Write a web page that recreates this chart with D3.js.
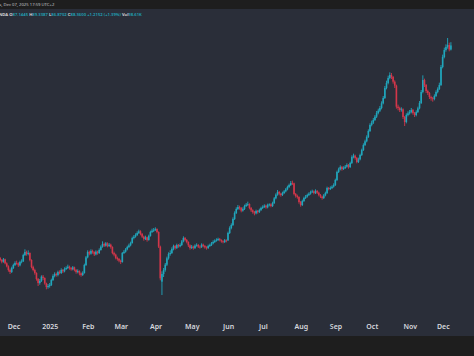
<!DOCTYPE html>
<html><head><meta charset="utf-8">
<script src="https://cdn.jsdelivr.net/npm/d3@7"></script>
<style>html,body{margin:0;padding:0;background:#1e1e1e;}svg{display:block}</style>
</head><body>
<svg id="c" width="474" height="356"></svg>
<script>
const opens = [
24.2,24.6,24.0,23.5,24.2,23.0,22.1,21.0,20.4,21.6,
22.5,23.1,23.0,22.4,23.4,23.6,25.5,26.4,25.8,26.1,
24.0,21.9,21.0,20.1,18.3,17.1,17.7,19.0,18.6,17.0,
15.9,16.2,16.5,18.0,19.2,19.8,19.5,20.4,20.1,21.0,
20.6,21.3,21.6,22.0,21.6,21.2,21.8,21.0,20.4,20.7,
20.0,19.5,20.1,22.5,24.8,26.4,25.9,26.7,26.4,25.7,
26.5,26.1,27.0,28.0,28.8,28.3,29.0,28.2,28.6,27.9,
26.1,25.6,24.6,24.3,23.8,23.4,26.1,26.5,27.2,27.9,
28.4,29.1,30.6,31.0,31.5,32.1,32.6,31.8,31.0,30.3,
30.8,30.0,31.2,32.4,32.8,33.0,33.3,32.4,28.0,17.5,
19.8,21.0,22.6,24.5,25.8,26.1,27.3,28.2,27.6,28.5,
28.1,28.5,29.6,30.6,30.0,29.4,28.4,27.6,28.0,27.6,
28.3,28.5,28.0,27.9,28.6,28.2,27.8,27.6,28.2,28.5,
29.0,29.4,29.8,30.0,30.3,30.0,29.6,29.4,29.9,29.9,
32.1,33.6,34.5,36.3,38.1,39.3,39.9,39.6,38.8,39.3,
40.2,40.6,40.8,39.6,38.9,38.4,38.0,38.7,38.4,39.0,
39.6,39.9,40.3,39.8,40.5,40.7,40.2,41.1,42.5,43.6,
44.4,43.9,43.5,44.1,44.6,45.2,45.9,46.5,47.1,47.0,
43.8,43.2,42.9,41.4,40.5,41.7,42.6,43.0,43.5,43.9,
44.4,44.6,44.1,44.7,44.2,43.5,43.0,42.6,43.4,44.1,
45.6,45.3,45.6,46.0,46.5,48.0,50.4,51.2,51.9,51.3,
51.6,52.0,52.5,51.9,53.1,54.9,55.3,54.6,53.4,54.2,
55.5,57.0,58.5,59.6,60.9,62.7,64.5,65.2,66.0,67.0,
68.1,68.8,69.6,71.0,72.6,75.6,77.1,78.6,79.5,78.9,
77.5,76.3,70.0,69.6,69.0,69.2,66.9,65.4,67.5,68.0,
68.4,69.0,68.1,67.5,68.4,69.5,71.1,74.4,78.0,76.5,
74.7,74.1,72.9,72.5,72.3,73.2,74.4,75.3,76.5,81.9,
84.9,87.0,87.9,88.5,87.1445];
const highs = [
25.1,24.9,24.3,24.6,24.4,23.3,22.4,21.4,22.0,22.9,
23.6,23.8,23.3,23.8,24.2,25.9,27.2,26.8,26.9,26.3,
24.2,22.3,21.4,20.3,18.6,18.3,19.4,19.5,18.8,17.2,
16.8,17.1,18.4,19.7,20.3,20.2,20.8,20.9,21.5,21.3,
21.8,22.1,22.6,22.3,21.9,22.2,22.0,21.3,21.2,20.9,
20.3,20.6,22.9,25.2,26.9,26.8,27.2,27.1,26.6,26.9,
26.8,27.5,28.4,29.6,29.2,29.4,29.3,29.1,28.9,28.1,
26.5,25.9,25.0,24.6,24.1,26.4,27.0,27.6,28.3,28.9,
29.5,31.0,31.5,32.0,32.6,33.1,32.9,32.1,31.3,31.3,
31.0,31.6,32.8,33.4,33.6,33.8,33.5,32.6,28.3,20.6,
21.6,23.1,25.0,26.3,26.9,27.8,28.6,28.5,28.9,28.8,
29.0,30.0,31.1,30.9,30.3,29.6,28.7,28.5,28.3,28.7,
29.0,28.8,28.4,29.0,28.9,28.5,28.1,28.6,28.9,29.4,
29.9,30.2,30.5,30.7,30.6,30.2,29.9,30.3,30.2,32.5,
34.1,35.0,36.8,38.6,39.8,40.5,40.3,39.9,39.8,40.6,
41.1,41.5,41.0,39.9,39.2,38.7,39.1,39.0,39.4,40.0,
40.4,40.7,40.6,40.9,41.0,41.0,41.5,42.9,44.0,45.0,
44.7,44.2,44.5,45.0,45.6,46.3,46.9,47.7,47.8,47.2,
44.1,43.6,43.1,41.7,42.1,43.0,43.5,43.9,44.3,44.8,
45.1,44.9,45.2,45.0,44.5,43.8,43.3,43.8,44.5,46.0,
45.9,46.1,46.4,47.0,48.4,50.8,51.7,52.4,52.2,52.1,
52.5,53.0,52.8,53.5,55.4,55.9,55.6,54.9,54.7,55.9,
57.4,59.0,60.1,61.4,63.2,65.0,65.8,66.6,67.5,68.7,
69.4,70.2,71.6,73.2,76.2,77.8,79.3,80.3,80.1,79.2,
77.9,76.6,70.6,70.0,69.8,69.5,67.2,68.0,68.6,69.0,
69.6,69.3,68.4,68.9,70.0,71.7,75.0,79.4,78.4,76.8,
75.1,74.4,73.3,72.9,73.7,74.9,75.8,77.2,82.5,85.6,
87.7,88.7,90.6,89.2,89.3387];
const lows = [
23.9,23.6,23.0,23.2,22.7,21.8,20.5,19.8,20.1,21.3,
22.2,22.6,21.9,22.1,23.0,23.4,25.2,25.3,25.4,23.6,
21.5,20.6,19.6,17.8,16.2,16.6,17.4,18.0,16.6,15.2,
15.4,15.7,16.2,17.7,18.8,19.0,19.1,19.7,19.8,20.1,
20.3,21.0,21.3,21.1,20.8,20.9,20.6,19.9,20.0,19.4,
19.0,19.2,19.9,22.2,24.5,25.4,25.6,25.9,25.2,25.4,
25.6,25.8,26.8,27.7,27.9,28.0,27.8,27.9,27.4,25.7,
25.1,24.2,23.8,23.3,22.8,23.2,25.8,26.2,26.9,27.6,
28.1,28.9,30.2,30.7,31.2,31.8,31.4,30.6,29.8,30.0,
29.5,29.8,31.0,32.1,32.4,32.7,32.0,27.6,17.9,13.5,
18.9,20.5,22.2,24.1,25.3,25.8,26.9,27.1,27.3,27.7,
27.8,28.2,29.3,29.6,29.0,27.9,27.1,27.3,27.1,27.3,
28.0,27.6,27.4,27.6,27.8,27.4,27.1,27.3,27.9,28.2,
28.7,29.1,29.5,29.7,29.6,29.2,29.0,29.1,29.3,29.7,
31.8,33.2,34.2,36.0,37.8,39.0,39.1,38.3,38.5,39.0,
39.9,40.2,39.2,38.4,37.9,37.4,37.7,37.9,38.1,38.7,
39.3,39.6,39.4,39.5,40.1,39.8,39.9,40.8,42.2,43.3,
43.4,43.0,43.2,43.8,44.3,44.9,45.6,46.2,46.5,43.4,
42.7,42.4,40.9,40.0,40.2,41.4,42.3,42.7,43.2,43.6,
44.1,43.7,43.8,43.8,43.1,42.6,42.1,42.3,43.1,43.8,
44.9,45.0,45.3,45.7,46.2,47.7,50.1,50.9,50.8,51.0,
51.3,51.7,51.4,51.6,52.8,54.5,54.1,53.0,53.1,53.9,
55.2,56.7,58.2,59.3,60.6,62.4,64.1,64.8,65.7,66.6,
67.7,68.4,69.2,70.7,72.3,75.2,76.7,78.2,78.3,76.9,
75.6,69.4,68.9,68.4,68.5,66.3,64.2,65.0,67.1,67.6,
68.0,67.6,66.9,67.1,68.1,69.2,70.8,74.0,75.9,74.1,
73.5,72.3,71.8,71.5,71.9,72.9,74.0,75.0,76.2,81.5,
84.5,86.5,87.4,86.6,86.8702];
const closes = [
24.6,24.0,23.5,24.2,23.0,22.1,21.0,20.4,21.6,22.5,
23.1,23.0,22.4,23.4,23.6,25.5,26.4,25.8,26.1,24.0,
21.9,21.0,20.1,18.3,17.1,17.7,19.0,18.6,17.0,15.9,
16.2,16.5,18.0,19.2,19.8,19.5,20.4,20.1,21.0,20.6,
21.3,21.6,22.0,21.6,21.2,21.8,21.0,20.4,20.7,20.0,
19.5,20.1,22.5,24.8,26.4,25.9,26.7,26.4,25.7,26.5,
26.1,27.0,28.0,28.8,28.3,29.0,28.2,28.6,27.9,26.1,
25.6,24.6,24.3,23.8,23.4,26.1,26.5,27.2,27.9,28.4,
29.1,30.6,31.0,31.5,32.1,32.6,31.8,31.0,30.3,30.8,
30.0,31.2,32.4,32.8,33.0,33.3,32.4,28.0,18.5,19.8,
21.0,22.6,24.5,25.8,26.1,27.3,28.2,27.6,28.5,28.1,
28.5,29.6,30.6,30.0,29.4,28.4,27.6,28.0,27.6,28.3,
28.5,28.0,27.9,28.6,28.2,27.8,27.6,28.2,28.5,29.0,
29.4,29.8,30.0,30.3,30.0,29.6,29.4,29.9,29.7,32.1,
33.6,34.5,36.3,38.1,39.3,39.9,39.6,38.8,39.3,40.2,
40.6,40.8,39.6,38.9,38.4,38.0,38.7,38.4,39.0,39.6,
39.9,40.3,39.8,40.5,40.7,40.2,41.1,42.5,43.6,44.4,
43.9,43.5,44.1,44.6,45.2,45.9,46.5,47.1,47.0,43.8,
43.2,42.9,41.4,40.5,41.7,42.6,43.0,43.5,43.9,44.4,
44.6,44.1,44.7,44.2,43.5,43.0,42.6,43.4,44.1,45.6,
45.3,45.6,46.0,46.5,48.0,50.4,51.2,51.9,51.3,51.6,
52.0,52.5,51.9,53.1,54.9,55.3,54.6,53.4,54.2,55.5,
57.0,58.5,59.6,60.9,62.7,64.5,65.2,66.0,67.0,68.1,
68.8,69.6,71.0,72.6,75.6,77.1,78.6,79.5,78.9,77.5,
76.3,70.0,69.6,69.0,69.2,66.9,65.4,67.5,68.0,68.4,
69.0,68.1,67.5,68.4,69.5,71.1,74.4,78.0,76.5,74.7,
74.1,72.9,72.5,72.3,73.2,74.4,75.3,76.5,81.9,84.9,
87.0,87.9,88.5,87.1445,88.36];
const monthLabels = ["Dec","2025","Feb","Mar","Apr","May","Jun","Jul","Aug","Sep","Oct","Nov","Dec"];
const firstBarDate = [2024, 10, 18];
const headerLine1 = "a, Dec 07, 2025 17:59 UTC+2";
const symbolText = "NDA";
const legendItems = [["O","87.1445"],["H","89.3387"],["L","86.8702"],["C","88.3600"]];
const changeText = "+1.2152 (+1.39%)";
const volLabel = "Vol";
const volValue = "98.61K";

const W = 474, H = 356;
const upColor = "#20a6bc", downColor = "#d3364a";
const svg = d3.select("#c");
svg.append("rect").attr("x",0).attr("y",0).attr("width",W).attr("height",H).attr("fill","#1e1e1e");
svg.append("rect").attr("x",0).attr("y",9).attr("width",W).attr("height",327).attr("fill","#2a2e39");

const dates = [];
let d = new Date(firstBarDate[0], firstBarDate[1], firstBarDate[2]);
while (dates.length < closes.length) {
  const wd = d.getDay();
  if (wd !== 0 && wd !== 6) dates.push(new Date(d));
  d.setDate(d.getDate() + 1);
}
const x = d3.scaleLinear().domain([0, 274]).range([-1.51, 450.9]);
const y = d3.scaleLinear().domain([1.2, 99.3]).range([336, 9]);

svg.append("clipPath").attr("id","clip").append("rect")
  .attr("x",0).attr("y",9).attr("width",W).attr("height",327);
const g = svg.append("g").attr("clip-path","url(#clip)");
const idx = d3.range(closes.length);
const bw = 1.6;
g.selectAll("line.wick").data(idx).join("line")
  .attr("x1", i => x(i)).attr("x2", i => x(i))
  .attr("y1", i => y(highs[i])).attr("y2", i => y(lows[i]))
  .attr("stroke", i => closes[i] >= opens[i] ? upColor : downColor)
  .attr("stroke-width", 0.9);
g.selectAll("rect.body").data(idx).join("rect")
  .attr("x", i => x(i) - bw/2).attr("width", bw)
  .attr("y", i => y(Math.max(opens[i], closes[i])))
  .attr("height", i => Math.max(0.8, Math.abs(y(opens[i]) - y(closes[i]))))
  .attr("fill", i => closes[i] >= opens[i] ? upColor : downColor);

const tickIdx = idx.filter(i => i > 0 && dates[i].getMonth() !== dates[i-1].getMonth());
const axis = d3.axisBottom(x).tickValues(tickIdx)
  .tickFormat((v, k) => monthLabels[k]).tickSize(0).tickPadding(0);
const ax = svg.append("g").attr("transform","translate(-1.5,324)").call(axis);
ax.select(".domain").remove();
ax.selectAll("text").attr("fill","#d6d8de").attr("font-size","7px")
  .attr("font-family","'Noto Sans', sans-serif").attr("font-weight","600");

svg.append("text").attr("x",-1).attr("y",6.3).attr("fill","#c8c9cc")
  .attr("font-size","4.2px").attr("font-family","'Noto Sans', sans-serif").text(headerLine1);
const t = svg.append("text").attr("x",-1).attr("y",15.5)
  .attr("font-size","4.2px").attr("font-family","'Noto Sans', sans-serif").attr("font-weight","600");
t.append("tspan").attr("fill","#e0e0e0").text(symbolText + " ");
legendItems.forEach(([k, v]) => {
  t.append("tspan").attr("fill","#e0e0e0").text(k);
  t.append("tspan").attr("fill", upColor).text(v + " ");
});
t.append("tspan").attr("fill", upColor).text(changeText + " ");
t.append("tspan").attr("fill","#e0e0e0").text(volLabel);
t.append("tspan").attr("fill", upColor).text(volValue);
</script>
</body></html>
